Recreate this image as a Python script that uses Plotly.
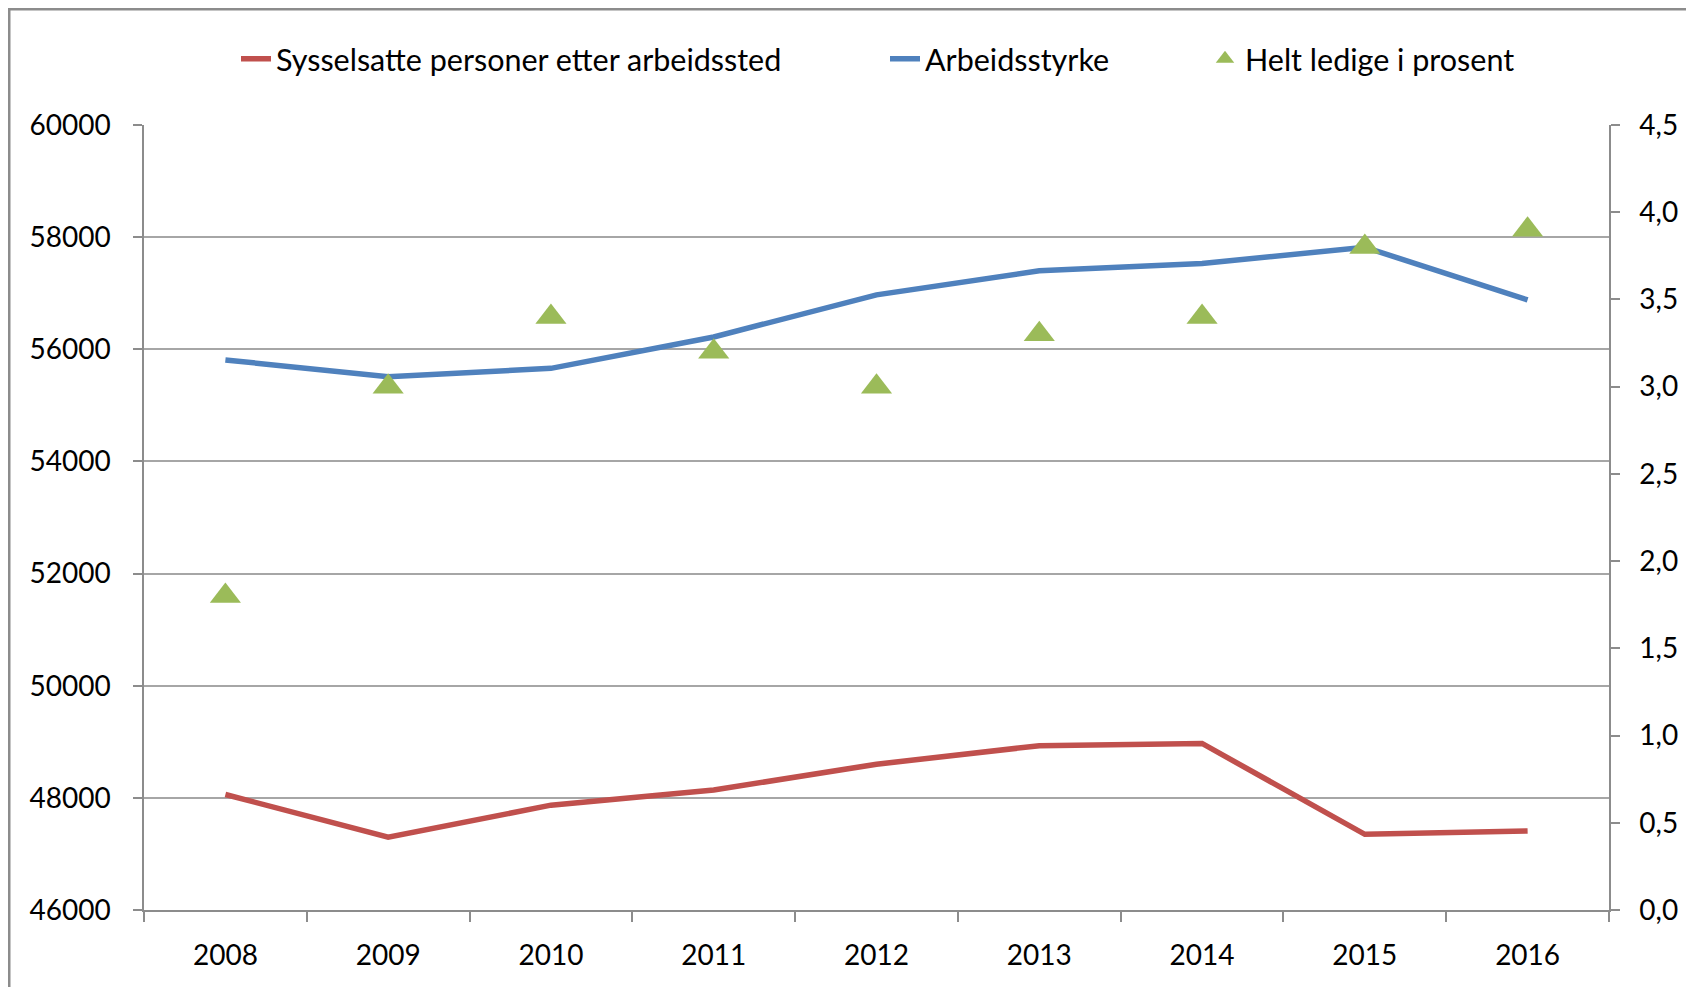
import plotly.graph_objects as go

years = ["2008", "2009", "2010", "2011", "2012", "2013", "2014", "2015", "2016"]
sysselsatte = [48060, 47300, 47870, 48140, 48600, 48930, 48970, 47350, 47410]
arbeidsstyrke = [55810, 55510, 55660, 56220, 56970, 57400, 57530, 57820, 56880]
ledige_prosent = [1.8, 3.0, 3.4, 3.2, 3.0, 3.3, 3.4, 3.8, 3.9]

OFF = 8  # page body margin
W, H = 1694 - OFF, 987 - OFF
# plot area in page pixel coordinates
L, R, T, B = 144 - OFF, 1609 - OFF, 125 - OFF, 910 - OFF
pw, ph = R - L, B - T

def px_x(x):  # x in figure pixels
    return (x - L) / pw

def px_y(y):
    return (B - y) / ph

FONT = "Lato"
fs = 28
lfs = 30.5

fig = go.Figure()
fig.add_trace(go.Scatter(x=years, y=sysselsatte, mode="lines",
                         name="Sysselsatte personer etter arbeidssted",
                         line=dict(color="#C0504D", width=5.5), legend="legend"))
fig.add_trace(go.Scatter(x=years, y=arbeidsstyrke, mode="lines",
                         name="Arbeidsstyrke",
                         line=dict(color="#4F81BD", width=5.5), legend="legend2"))
fig.add_trace(go.Scatter(x=years, y=ledige_prosent, mode="markers",
                         name="Helt ledige i prosent", yaxis="y2",
                         marker=dict(symbol="triangle-up", color="#9BBB59", size=27),
                         legend="legend3"))

leg_common = dict(orientation="h", yanchor="middle", xanchor="left",
                  font=dict(family=FONT, size=lfs, color="#000"),
                  bgcolor="rgba(0,0,0,0)", borderwidth=0)

leg_y = px_y(59 - OFF)

fig.update_layout(
    width=W, height=H,
    margin=dict(l=L, r=W - R, t=T, b=H - B, autoexpand=False),
    paper_bgcolor="white", plot_bgcolor="white",
    separators=", ",
    font=dict(family=FONT, size=fs, color="#000"),
    showlegend=True,
    legend=dict(x=px_x(228), y=leg_y, **leg_common),
    legend2=dict(x=px_x(877), y=leg_y, **leg_common),
    legend3=dict(x=px_x(1197), y=leg_y, **leg_common),
    xaxis=dict(type="category", range=[-0.5, 8.5], tickson="boundaries",
               ticks="outside", ticklen=10, tickcolor="#8c8c8c", tickwidth=1.5,
               showline=True, linecolor="#8c8c8c", linewidth=1.5,
               showgrid=False, ticklabelstandoff=20,
               tickfont=dict(family=FONT, size=fs, color="#000")),
    yaxis=dict(range=[46000, 60000], dtick=2000, tickformat="d",
               ticks="outside", ticklen=9, tickcolor="#8c8c8c", tickwidth=1.5,
               showline=True, linecolor="#8c8c8c", linewidth=1.5,
               showgrid=True, gridcolor="#a6a6a6", gridwidth=1.5,
               zeroline=False, ticklabelstandoff=17,
               tickfont=dict(family=FONT, size=fs, color="#000")),
    yaxis2=dict(range=[0, 4.5], dtick=0.5, tickformat=".1f", overlaying="y", side="right",
                ticks="outside", ticklen=9, tickcolor="#8c8c8c", tickwidth=1.5,
                showline=True, linecolor="#8c8c8c", linewidth=1.5,
                showgrid=False, zeroline=False, ticklabelstandoff=14,
                tickfont=dict(family=FONT, size=fs, color="#000")),
    shapes=[dict(type="rect", xref="paper", yref="paper",
                 x0=px_x(9 - OFF), x1=px_x(W + 20), y0=px_y(H + 20), y1=px_y(9 - OFF),
                 line=dict(color="#8c8c8c", width=3), fillcolor="rgba(0,0,0,0)",
                 layer="below")],
)

fig.write_html("out.html")
